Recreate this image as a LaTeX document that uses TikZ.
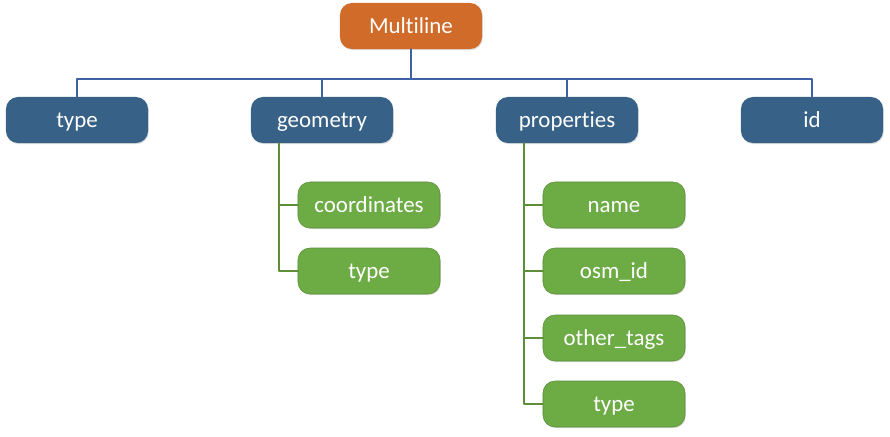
\documentclass[tikz,border=0pt]{standalone}
\usepackage{fontspec}
\setmainfont{Carlito}[Ligatures=NoCommon]
\usetikzlibrary{shadows}

\definecolor{rootorange}{HTML}{D06B2A}
\definecolor{keyblue}{HTML}{376186}
\definecolor{leafgreen}{HTML}{6DAB45}
\definecolor{busblue}{HTML}{3F62A6}
\definecolor{stemgreen}{HTML}{5E8E3A}

\begin{document}
\begin{tikzpicture}[x=0.025cm, y=-0.025cm, line cap=round, line join=round]

% ---------------- styles ----------------
\tikzset{
  box/.style   ={rounded corners=0.3cm, minimum width=3.55cm, minimum height=1.15cm,
                 inner sep=0pt, text height=12pt, text depth=1.8pt,
                 text=white, font=\fontsize{16.3}{18}\selectfont,
                 drop shadow={opacity=0.25, shadow xshift=0.6pt, shadow yshift=-0.8pt}},
  root/.style  ={box, fill=rootorange},
  key/.style   ={box, fill=keyblue},
  leaf/.style  ={box, fill=leafgreen, draw=stemgreen, line width=0.4pt},
  bus/.style   ={draw=busblue, line width=1.4pt},
  stem/.style  ={draw=stemgreen, line width=1.1pt}
}

\useasboundingbox (0,0) rectangle (890,436);

% ---------------- root ----------------
\node[root] (multiline) at (411,26) {Multiline};

% ---------------- first level ----------------
\node[key] (type)       at (77,120)  {type};
\node[key] (geometry)   at (322,120) {geometry};
\node[key] (properties) at (567,120) {properties};
\node[key] (id)         at (812,120) {id};

% ---------------- leaves ----------------
\node[leaf] (coordinates) at (369,205) {coordinates};
\node[leaf] (geomtype)    at (369,271) {type};

\node[leaf] (name)      at (614,205) {name};
\node[leaf] (osmid)     at (614,271) {osm\_id};
\node[leaf] (othertags) at (614,338) {other\_tags};
\node[leaf] (proptype)  at (614,404) {type};

% ---------------- connectors ----------------
\coordinate (busline) at (411,79);
\coordinate (geomtrunk) at (279,0);
\coordinate (proptrunk) at (524,0);

\path[bus] (multiline.south) -- (busline);
\path[bus] (type.north) |- (busline) -| (id.north);
\path[bus] (geometry.north) -- (geometry.north |- busline);
\path[bus] (properties.north) -- (properties.north |- busline);

\path[stem] (geometry.south -| geomtrunk) |- (coordinates.west);
\path[stem] (geometry.south -| geomtrunk) |- (geomtype.west);

\path[stem] (properties.south -| proptrunk) |- (name.west);
\path[stem] (properties.south -| proptrunk) |- (osmid.west);
\path[stem] (properties.south -| proptrunk) |- (othertags.west);
\path[stem] (properties.south -| proptrunk) |- (proptype.west);

\end{tikzpicture}
\end{document}
